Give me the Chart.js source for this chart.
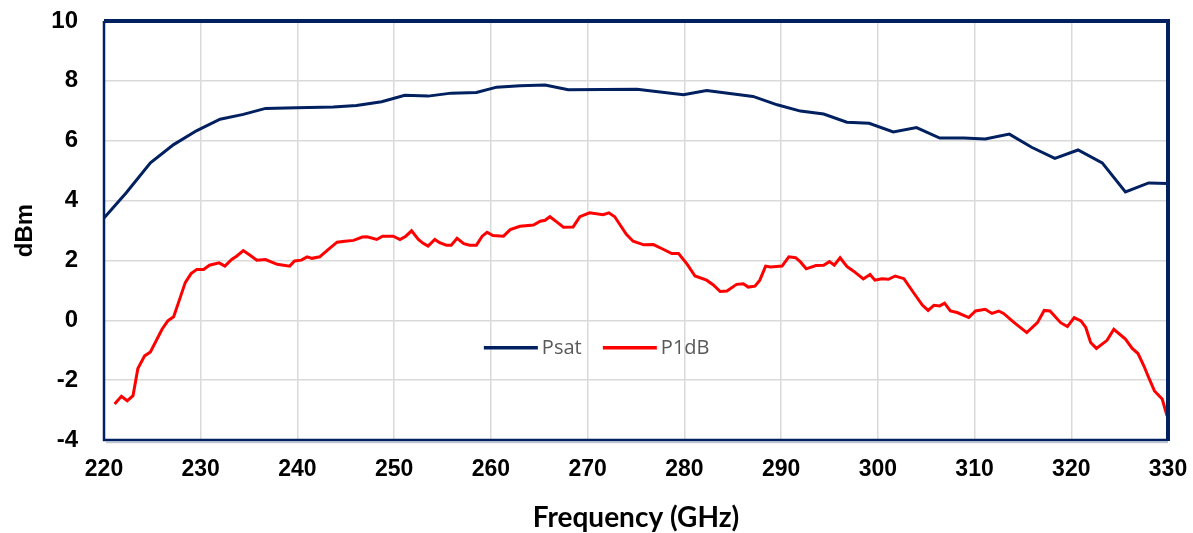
<!DOCTYPE html>
<html>
<head>
<meta charset="utf-8">
<script src="https://cdn.jsdelivr.net/npm/chart.js@4/dist/chart.umd.min.js"></script>
<style>
  html, body { margin: 0; padding: 0; background: #fff; }
  #wrap { width: 1193px; height: 533px; }
</style>
</head>
<body>
<div id="wrap"><canvas id="myChart" width="1193" height="533"></canvas></div>
<script>
// Psat: frequency (GHz) and power (dBm)
const psatFreq = [220, 222.3, 224.8, 227.2, 229.6, 232, 234.4, 236.7, 239.9, 243.7, 246.1, 248.7,
  251.1, 253.5, 255.9, 258.5, 260.6, 263, 265.6, 268, 271.6, 275.1, 279.9, 282.3, 287.1, 289.6,
  292, 294.4, 296.8, 299.1, 301.6, 304, 306.4, 308.9, 311.1, 313.6, 315.9, 318.3, 320.7, 323.2,
  325.6, 328, 330];
const psatVals = [3.42, 4.26, 5.26, 5.87, 6.34, 6.72, 6.88, 7.08, 7.1, 7.13, 7.18, 7.3,
  7.52, 7.49, 7.59, 7.61, 7.79, 7.84, 7.86, 7.7, 7.71, 7.72, 7.54, 7.68, 7.48, 7.2,
  6.99, 6.89, 6.62, 6.58, 6.29, 6.44, 6.09, 6.09, 6.06, 6.22, 5.78, 5.41, 5.69, 5.26,
  4.29, 4.59, 4.57];

// P1dB: frequency (GHz) and power (dBm)
const p1dbFreq = [221.1, 221.8, 222.4, 223.0, 223.5, 224.2, 224.8, 226.0, 226.6, 227.2, 227.7, 228.4,
  229.0, 229.6, 230.3, 230.9, 231.9, 232.5, 233.2, 233.7, 234.4, 235.1, 235.8, 236.7, 237.9, 239.2,
  239.7, 240.4, 241.0, 241.5, 242.3, 243.2, 244.1, 244.9, 245.8, 246.7, 247.2, 248.2, 248.8, 249.9,
  250.6, 251.2, 251.8, 252.5, 253.0, 253.5, 254.2, 254.7, 255.4, 255.9, 256.5, 257.2, 257.8, 258.5,
  259.1, 259.6, 260.2, 261.3, 262.0, 263.0, 264.4, 265.1, 265.6, 266.1, 266.8, 267.5, 268.5, 269.2,
  270.2, 271.6, 272.2, 272.8, 274.0, 274.7, 275.8, 276.8, 277.7, 278.7, 279.4, 280.3, 281.1, 282.3,
  283.0, 283.7, 284.4, 285.4, 286.1, 286.6, 287.3, 287.8, 288.4, 288.9, 290.1, 290.8, 291.5, 292.0,
  292.6, 293.6, 294.4, 295.0, 295.5, 296.1, 296.8, 297.5, 298.5, 299.2, 299.7, 300.4, 301.1, 301.8,
  302.7, 303.7, 304.6, 305.2, 305.8, 306.4, 306.9, 307.5, 308.2, 309.4, 310.1, 311.1, 311.8, 312.5,
  313.0, 314.1, 315.4, 316.5, 317.2, 317.8, 318.9, 319.6, 320.3, 321.0, 321.5, 322.0, 322.6, 323.7,
  324.4, 325.6, 326.3, 326.9, 327.5, 328.0, 328.6, 329.4, 329.9];
const p1dbVals = [-2.8, -2.54, -2.69, -2.52, -1.61, -1.19, -1.06, -0.3, -0.02, 0.12, 0.59, 1.26,
  1.56, 1.7, 1.7, 1.84, 1.92, 1.81, 2.03, 2.14, 2.33, 2.17, 2.01, 2.03, 1.87, 1.81,
  1.98, 2.01, 2.12, 2.07, 2.12, 2.37, 2.61, 2.64, 2.67, 2.78, 2.79, 2.7, 2.81, 2.81,
  2.7, 2.81, 2.99, 2.7, 2.57, 2.48, 2.7, 2.59, 2.51, 2.51, 2.74, 2.56, 2.51, 2.51,
  2.81, 2.94, 2.83, 2.81, 3.03, 3.14, 3.18, 3.31, 3.34, 3.46, 3.29, 3.11, 3.12, 3.46,
  3.59, 3.53, 3.59, 3.46, 2.87, 2.64, 2.52, 2.53, 2.39, 2.23, 2.23, 1.87, 1.48, 1.34,
  1.18, 0.96, 0.98, 1.2, 1.22, 1.11, 1.14, 1.34, 1.81, 1.78, 1.81, 2.12, 2.09, 1.95,
  1.72, 1.83, 1.84, 1.96, 1.84, 2.09, 1.8, 1.64, 1.38, 1.53, 1.34, 1.39, 1.37, 1.48,
  1.39, 0.92, 0.51, 0.33, 0.5, 0.48, 0.57, 0.31, 0.26, 0.09, 0.31, 0.37, 0.23, 0.31,
  0.23, -0.08, -0.41, -0.08, 0.33, 0.31, -0.08, -0.21, 0.09, -0.02, -0.24, -0.74, -0.94, -0.67,
  -0.3, -0.63, -0.94, -1.11, -1.52, -1.91, -2.36, -2.63, -3.19];

const seriesLabels = ["Psat", "P1dB"];
const xTicks = [220, 230, 240, 250, 260, 270, 280, 290, 300, 310, 320, 330];
const yTicks = [-4, -2, 0, 2, 4, 6, 8, 10];

const toPoints = (xs, ys) => xs.map((x, i) => ({ x: x, y: ys[i] }));

// legend drawn inside the plot, like the original
const innerLegend = {
  id: "innerLegend",
  afterDatasetsDraw(chart) {
    const ctx = chart.ctx;
    const area = chart.chartArea;
    let x = area.left + 0.357 * (area.right - area.left);
    const y = area.top + 0.78 * (area.bottom - area.top);
    ctx.save();
    ctx.font = "20px 'Open Sans', sans-serif";
    ctx.textBaseline = "middle";
    chart.data.datasets.forEach((ds) => {
      ctx.strokeStyle = ds.borderColor;
      ctx.lineWidth = 3.5;
      ctx.beginPath();
      ctx.moveTo(x, y);
      ctx.lineTo(x + 54, y);
      ctx.stroke();
      ctx.fillStyle = "#595959";
      ctx.fillText(ds.label, x + 58, y);
      x += 119;
    });
    ctx.restore();
  }
};

// dark frame round the plot area
const plotFrame = {
  id: "plotFrame",
  afterDatasetsDraw(chart) {
    const ctx = chart.ctx;
    const a = chart.chartArea;
    ctx.save();
    ctx.strokeStyle = "#bfc5d2";
    ctx.lineWidth = 1.5;
    ctx.beginPath();
    ctx.moveTo(a.left + 2, a.bottom + 2.5);
    ctx.lineTo(a.right, a.bottom + 2.5);
    ctx.stroke();
    ctx.strokeStyle = "#002060";
    ctx.lineWidth = 2.5;
    ctx.beginPath();
    ctx.moveTo(a.left, a.top);
    ctx.lineTo(a.left, a.bottom);
    ctx.lineTo(a.right, a.bottom);
    ctx.stroke();
    ctx.lineWidth = 4;
    ctx.beginPath();
    ctx.moveTo(a.left, a.top);
    ctx.lineTo(a.right, a.top);
    ctx.lineTo(a.right, a.bottom + 1);
    ctx.stroke();
    ctx.restore();
  }
};

const tickFont = { family: "'Liberation Sans', Arial, sans-serif", size: 24, weight: "bold" };

var ctx = document.getElementById("myChart").getContext("2d");
var chart = new Chart(ctx, {
  type: "scatter",
  data: {
    datasets: [
      {
        label: seriesLabels[0],
        data: toPoints(psatFreq, psatVals),
        showLine: true,
        borderColor: "#002060",
        backgroundColor: "#002060",
        borderWidth: 3,
        pointRadius: 0,
      },
      {
        label: seriesLabels[1],
        data: toPoints(p1dbFreq, p1dbVals),
        showLine: true,
        borderColor: "#ff0000",
        backgroundColor: "#ff0000",
        borderWidth: 3,
        pointRadius: 0,
      },
    ],
  },
  options: {
    responsive: false,
    animation: false,
    layout: { padding: { top: 21, right: 25, left: 0, bottom: 0 } },
    plugins: {
      legend: { display: false },
      tooltip: { enabled: false },
    },
    scales: {
      x: {
        type: "linear",
        min: 220,
        max: 330,
        afterBuildTicks: (scale) => { scale.ticks = xTicks.map((v) => ({ value: v })); },
        afterFit: (scale) => {
          scale.height = 93;
          scale.paddingLeft = 0;
          scale.paddingRight = 0;
        },
        grid: { color: "#d9d9d9", lineWidth: 1.5, drawTicks: false },
        border: { display: false },
        ticks: { color: "#000", font: { ...tickFont, size: 23 }, padding: 16, maxRotation: 0 },
        title: {
          display: true,
          text: "Frequency (GHz)",
          color: "#000",
          font: { family: "Lato, 'Open Sans', sans-serif", size: 28, weight: "bold" },
          padding: { top: 0, bottom: -2 },
        },
      },
      y: {
        min: -4,
        max: 10,
        afterBuildTicks: (scale) => { scale.ticks = yTicks.map((v) => ({ value: v })); },
        afterFit: (scale) => {
          scale.width = 104;
          scale.paddingTop = 0;
          scale.paddingBottom = 0;
        },
        grid: { color: "#d9d9d9", lineWidth: 1.5, drawTicks: false },
        border: { display: false },
        ticks: { color: "#000", font: tickFont, padding: 26 },
        title: {
          display: true,
          text: "dBm",
          color: "#000",
          font: { family: "'Liberation Sans', Arial, sans-serif", size: 24, weight: "bold" },
          padding: { top: 11, bottom: 0 },
        },
      },
    },
  },
  plugins: [innerLegend, plotFrame],
});
</script>
</body>
</html>
